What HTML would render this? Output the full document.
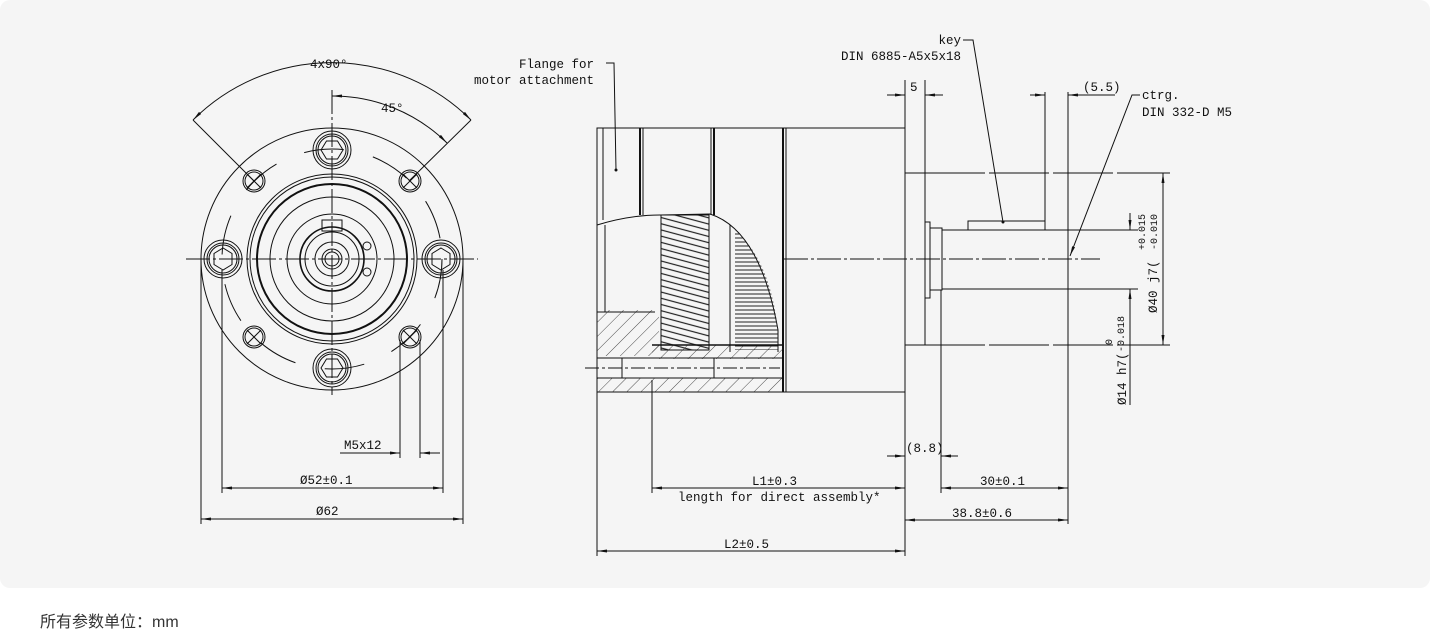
<!DOCTYPE html>
<html><head><meta charset="utf-8"><style>
body{margin:0;background:#fff;width:1438px;height:643px;overflow:hidden;font-family:"Liberation Sans","Noto Sans CJK SC",sans-serif}
.card{position:absolute;left:0;top:0;width:1430px;height:588px;background:#f5f5f5;border-radius:10px}
.cap{position:absolute;left:40px;top:608px;font-size:16px;color:#333}
svg{position:absolute;left:0;top:0}
text{font-family:"Liberation Mono",monospace;font-size:12.5px;fill:#111}
</style></head><body>
<div class="card"></div>
<div class="cap">所有参数单位：mm</div>
<svg width="1438" height="588" viewBox="0 0 1438 588" fill="none" stroke="#111" stroke-width="1">
<defs>
<marker id="a" viewBox="0 0 10 6" refX="10" refY="3" markerWidth="10" markerHeight="6" orient="auto-start-reverse"><path d="M0,1.5L10,3L0,4.5z" fill="#111" stroke="none"/></marker>
<pattern id="h" width="10" height="10" patternUnits="userSpaceOnUse" patternTransform="rotate(45)"><line x1="0" y1="0" x2="0" y2="10" stroke="#222" stroke-width="0.8"/></pattern>
<pattern id="hz" width="4" height="4" patternUnits="userSpaceOnUse"><line x1="0" y1="2" x2="4" y2="2" stroke="#222" stroke-width="1"/></pattern>
<pattern id="gt" width="12" height="6" patternUnits="userSpaceOnUse" patternTransform="rotate(15)"><line x1="0" y1="3" x2="12" y2="3" stroke="#222" stroke-width="1.2"/></pattern>
</defs>
<!-- LEFT VIEW -->
<g>
<line x1="186" y1="259" x2="478" y2="259" stroke-dasharray="24,3,3,3"/>
<line x1="332" y1="90" x2="332" y2="395" stroke-dasharray="24,3,3,3"/>
<circle cx="332" cy="259" r="131"/>
<circle cx="332" cy="259" r="110" stroke-dasharray="40,30"/>
<circle cx="332" cy="259" r="85"/><circle cx="332" cy="259" r="82"/>
<circle cx="332" cy="259" r="75" stroke-width="2"/>
<circle cx="332" cy="259" r="62"/>
<circle cx="332" cy="259" r="45"/><circle cx="332" cy="259" r="32" stroke-width="1.6"/>
<circle cx="332" cy="259" r="27"/><circle cx="332" cy="259" r="17"/>
<circle cx="332" cy="259" r="10"/><circle cx="332" cy="259" r="7"/>
<rect x="322" y="220" width="20" height="11"/>
<circle cx="367" cy="246" r="4"/><circle cx="367" cy="272" r="4"/>
<g id="bolt"><circle cx="332" cy="150" r="19"/><circle cx="332" cy="150" r="16"/><circle cx="332" cy="150" r="14"/><polygon points="321,150 326.5,141 337.5,141 343,150 337.5,159 326.5,159"/></g>
<use href="#bolt" transform="rotate(90 332 259)"/>
<use href="#bolt" transform="rotate(180 332 259)"/>
<use href="#bolt" transform="rotate(270 332 259)"/>
<g id="hole"><circle cx="254" cy="181" r="11"/><circle cx="254" cy="181" r="9"/><path d="M247,174l14,14M261,174l-14,14"/></g>
<use href="#hole" transform="rotate(90 332 259)"/>
<use href="#hole" transform="rotate(180 332 259)"/>
<use href="#hole" transform="rotate(270 332 259)"/>
<path d="M193,120 A197,197 0 0 1 471,120" marker-start="url(#a)" marker-end="url(#a)"/>
<line x1="193" y1="120" x2="254" y2="181"/><line x1="471" y1="120" x2="409" y2="181"/>
<path d="M332,96 A163,163 0 0 1 447,143" marker-start="url(#a)" marker-end="url(#a)"/>
<text x="310" y="68" stroke="none">4x90°</text>
<text x="381" y="112" stroke="none">45°</text>
<line x1="201" y1="259" x2="201" y2="524"/><line x1="463" y1="259" x2="463" y2="524"/>
<line x1="222" y1="270" x2="222" y2="493"/><line x1="443" y1="270" x2="443" y2="493"/>
<line x1="400" y1="340" x2="400" y2="458"/><line x1="420" y1="340" x2="420" y2="458"/>
<line x1="201" y1="519" x2="463" y2="519" marker-start="url(#a)" marker-end="url(#a)"/>
<line x1="222" y1="488" x2="443" y2="488" marker-start="url(#a)" marker-end="url(#a)"/>
<line x1="340" y1="453" x2="400" y2="453"/><line x1="380" y1="453" x2="400" y2="453" marker-end="url(#a)"/><line x1="440" y1="453" x2="420" y2="453" marker-end="url(#a)"/>
<text x="344" y="449" stroke="none">M5x12</text>
<text x="300" y="484" stroke="none">Ø52±0.1</text>
<text x="316" y="515" stroke="none">Ø62</text>
</g>
<!-- SIDE VIEW -->
<g>
<rect x="597" y="128" width="308" height="264"/>
<line x1="640" y1="128" x2="640" y2="215" stroke-width="2"/>
<line x1="643" y1="128" x2="643" y2="215"/>
<line x1="711" y1="128" x2="711" y2="215"/><line x1="714" y1="128" x2="714" y2="215" stroke-width="2"/>
<line x1="783" y1="128" x2="783" y2="392" stroke-width="2"/><line x1="786" y1="128" x2="786" y2="392"/>
<line x1="603" y1="128" x2="603" y2="220"/>
<path d="M597,225 Q630,215 660,215 L710,214 Q760,230 778,330 L778,352"/>
<rect x="597" y="310" width="62" height="46" fill="url(#h)" stroke="none"/>
<rect x="597" y="378" width="186" height="14" fill="url(#h)" stroke="none"/>
<rect x="652" y="345" width="131" height="14" fill="url(#h)" stroke="none"/>
<rect x="661" y="215" width="48" height="135" fill="url(#gt)" stroke="none"/>
<path d="M735,230 Q770,260 778,330 L778,350 L735,350z" fill="url(#hz)" stroke="none"/>
<rect x="661" y="215" width="48" height="135"/>
<line x1="730" y1="225" x2="730" y2="352"/>
<line x1="605" y1="225" x2="605" y2="312"/><line x1="597" y1="312" x2="655" y2="312"/>
<rect x="597" y="358" width="186" height="20"/>
<line x1="622" y1="358" x2="622" y2="378"/><line x1="714" y1="358" x2="714" y2="378"/>
<line x1="652" y1="345" x2="783" y2="345" stroke-width="1.6"/>
<line x1="585" y1="368" x2="780" y2="368" stroke-dasharray="14,3,3,3"/>
<rect x="905" y="173" width="20" height="172"/>
<rect x="925" y="222" width="5" height="76"/>
<rect x="930" y="228" width="12" height="62"/>
<rect x="942" y="230" width="126" height="59"/>
<path d="M968,230 L968,221 L1045,221 L1045,230"/>
<line x1="784" y1="259" x2="1100" y2="259" stroke-dasharray="24,3,3,3"/>
<line x1="905" y1="80" x2="905" y2="173"/><line x1="925" y1="80" x2="925" y2="173"/>
<line x1="887" y1="95" x2="905" y2="95" marker-end="url(#a)"/><line x1="943" y1="95" x2="925" y2="95" marker-end="url(#a)"/>
<text x="910" y="91" stroke="none">5</text>
<line x1="1045" y1="92" x2="1045" y2="221"/><line x1="1068" y1="92" x2="1068" y2="230"/>
<line x1="1030" y1="95" x2="1045" y2="95" marker-end="url(#a)"/><line x1="1115" y1="95" x2="1068" y2="95" marker-end="url(#a)"/>
<text x="1083" y="91" stroke="none">(5.5)</text>
<path d="M963,40 L973,40 L1003,222"/><circle cx="1003" cy="222" r="1" fill="#111"/>
<text x="961" y="44" stroke="none" text-anchor="end">key</text>
<text x="961" y="60" stroke="none" text-anchor="end">DIN 6885-A5x5x18</text>
<path d="M1140,95 L1132,95 L1070,256" marker-end="url(#a)"/>
<text x="1142" y="99" stroke="none">ctrg.</text>
<text x="1142" y="116" stroke="none">DIN 332-D M5</text>
<path d="M606,63 L614,63 L616,170"/><circle cx="616" cy="170" r="1" fill="#111"/>
<text x="594" y="68" stroke="none" text-anchor="end">Flange for</text>
<text x="594" y="84" stroke="none" text-anchor="end">motor attachment</text>
<line x1="925" y1="173" x2="1170" y2="173" stroke-dasharray="60,4"/>
<line x1="925" y1="345" x2="1170" y2="345" stroke-dasharray="60,4"/>
<line x1="1068" y1="230" x2="1138" y2="230"/><line x1="1068" y1="289" x2="1138" y2="289"/>
<line x1="1163" y1="173" x2="1163" y2="345" marker-start="url(#a)" marker-end="url(#a)"/>
<line x1="1130" y1="213" x2="1130" y2="230" marker-end="url(#a)"/>
<line x1="1130" y1="405" x2="1130" y2="289" marker-end="url(#a)"/>
<text transform="translate(1157,313) rotate(-90)" stroke="none">Ø40 j7(</text>
<text transform="translate(1145,250) rotate(-90)" stroke="none" style="font-size:10px">+0.015</text>
<text transform="translate(1157,250) rotate(-90)" stroke="none" style="font-size:10px">-0.010</text>
<text transform="translate(1126,405) rotate(-90)" stroke="none">Ø14 h7(</text>
<text transform="translate(1112,345) rotate(-90)" stroke="none" style="font-size:10px">0</text>
<text transform="translate(1124,352) rotate(-90)" stroke="none" style="font-size:10px">-0.018</text>
<line x1="597" y1="392" x2="597" y2="556"/><line x1="905" y1="345" x2="905" y2="556"/>
<line x1="652" y1="380" x2="652" y2="493"/><line x1="941" y1="290" x2="941" y2="493"/><line x1="1068" y1="289" x2="1068" y2="524"/>
<line x1="597" y1="551" x2="905" y2="551" marker-start="url(#a)" marker-end="url(#a)"/>
<line x1="652" y1="488" x2="905" y2="488" marker-start="url(#a)" marker-end="url(#a)"/>
<line x1="887" y1="456" x2="905" y2="456" marker-end="url(#a)"/><line x1="958" y1="456" x2="941" y2="456" marker-end="url(#a)"/>
<line x1="941" y1="488" x2="1068" y2="488" marker-start="url(#a)" marker-end="url(#a)"/>
<line x1="905" y1="520" x2="1068" y2="520" marker-start="url(#a)" marker-end="url(#a)"/>
<text x="906" y="452" stroke="none">(8.8)</text>
<text x="752" y="485" stroke="none">L1±0.3</text>
<text x="678" y="501" stroke="none">length for direct assembly*</text>
<text x="980" y="485" stroke="none">30±0.1</text>
<text x="952" y="517" stroke="none">38.8±0.6</text>
<text x="724" y="548" stroke="none">L2±0.5</text>
</g>
</svg>
</body></html>
